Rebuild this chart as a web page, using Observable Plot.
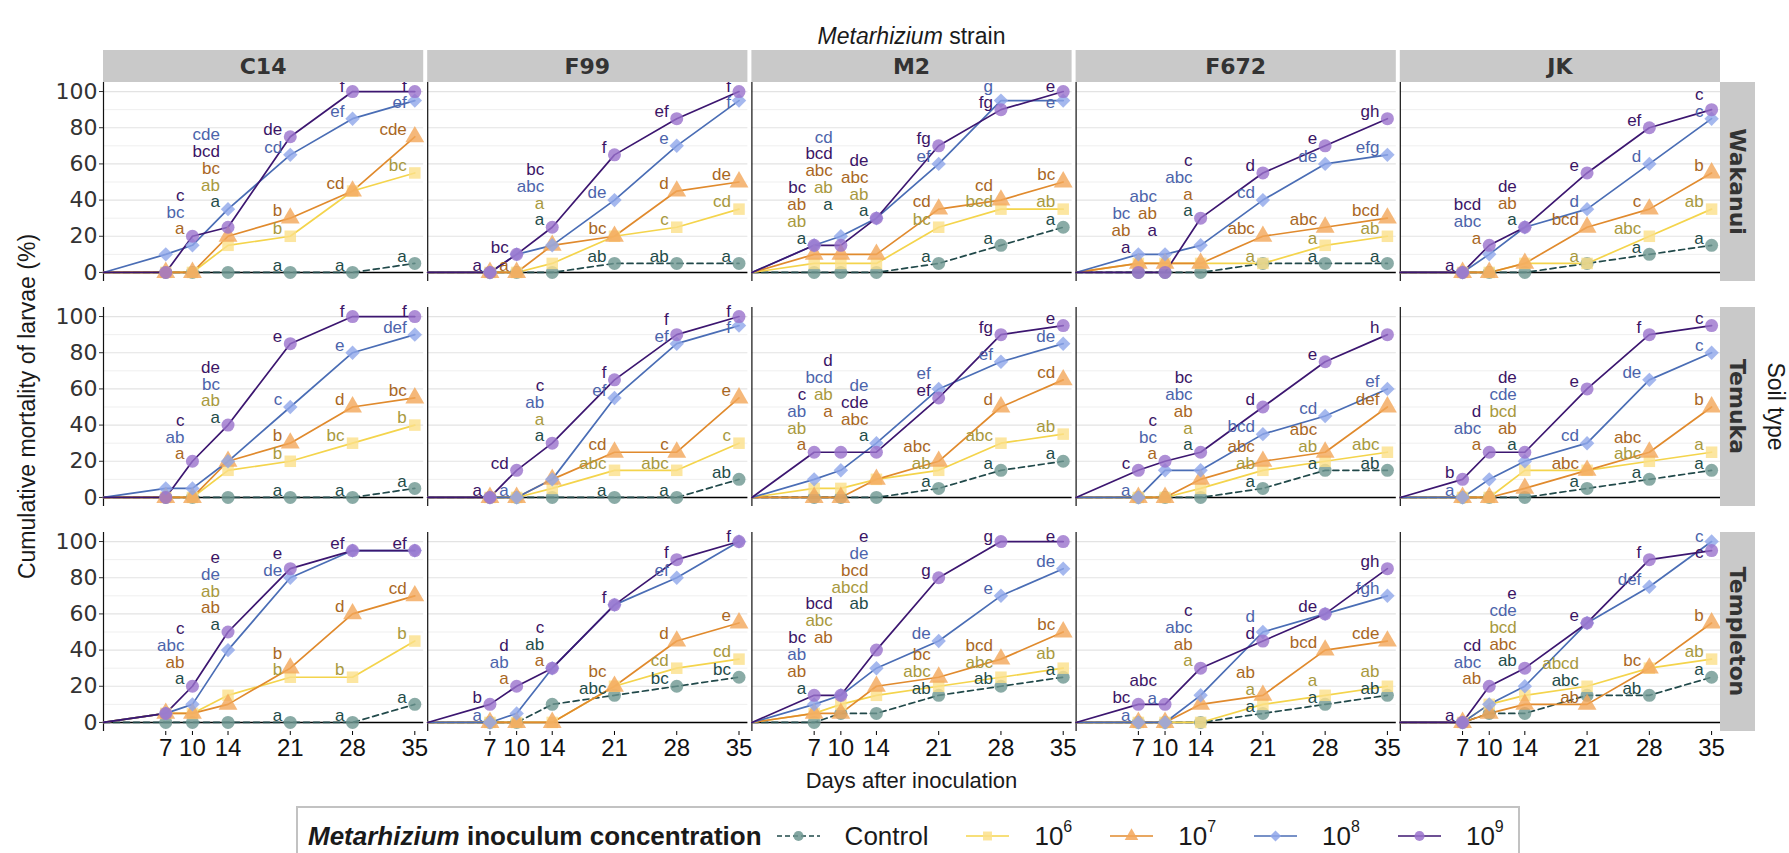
<!DOCTYPE html>
<html>
<head>
<meta charset="utf-8">
<script src="https://cdn.jsdelivr.net/npm/d3@7"></script>
<script src="https://cdn.jsdelivr.net/npm/@observablehq/plot@0.6"></script>
<style>
html, body { margin: 0; padding: 0; background: #fff; overflow: hidden; }
#wrap { position: relative; width: 1789px; height: 853px; overflow: hidden; }
#legend { position: absolute; left: 296px; top: 806px; width: 1224px; height: 66px; box-sizing: border-box;
  border: 2px solid #c2c2c2; padding: 11px 0 0 10px; font-family: "Liberation Sans", Arial, sans-serif;
  font-size: 26px; color: #1a1a1a; }
#legend .row { display: flex; align-items: center; height: 34px; white-space: nowrap; }
#legend .ltitle { font-weight: bold; }
#legend .item { display: flex; align-items: center; margin-left: 37px; }
#legend .item.first { margin-left: 14px; }
#legend .ltext { margin-left: 24px; }
#legend sup { font-size: 16px; position: relative; top: -3px; }
g[aria-label="y-axis tick label"] text { font-family: "DejaVu Sans", Verdana, sans-serif; }
</style>
</head>
<body>
<div id="wrap"><div id="chart"></div><div id="legend"><div class="row"></div></div></div>
<script>
// ---------- data ----------
const strains = ["C14", "F99", "M2", "F672", "JK"];
const soils = ["Wakanui", "Temuka", "Templeton"];
const days = [0, 7, 10, 14, 21, 28, 35];
const labelDays = [7, 10, 14, 21, 28, 35];
const concentrations = ["Control", "10^6", "10^7", "10^8", "10^9"];
const yTicks = [0, 20, 40, 60, 80, 100];
const yMinor = [10, 30, 50, 70, 90];
const xTicks = [7, 10, 14, 21, 28, 35];

// cumulative mortality (%) at days 0,7,10,14,21,28,35; rows: Control, 10^6, 10^7, 10^8, 10^9
const wakanuiC14 = [[0,0,0,0,0,0,5],[0,0,0,15,20,45,55],[0,0,0,20,30,45,75],[0,10,15,35,65,85,95],[0,0,20,25,75,100,100]];
const wakanuiF99 = [[0,0,0,0,5,5,5],[0,0,0,5,20,25,35],[0,0,0,15,20,45,50],[0,0,10,15,40,70,95],[0,0,10,25,65,85,100]];
const wakanuiM2 = [[0,0,0,0,5,15,25],[0,5,5,5,25,35,35],[0,10,10,10,35,40,50],[0,15,20,30,60,95,95],[0,15,15,30,70,90,100]];
const wakanuiF672 = [[0,0,0,0,5,5,5],[0,5,5,5,5,15,20],[0,5,5,5,20,25,30],[0,10,10,15,40,60,65],[0,0,0,30,55,70,85]];
const wakanuiJK = [[0,0,0,0,5,10,15],[0,0,0,5,5,20,35],[0,0,0,5,25,35,55],[0,0,10,25,35,60,85],[0,0,15,25,55,80,90]];
const temukaC14 = [[0,0,0,0,0,0,5],[0,0,0,15,20,30,40],[0,0,0,20,30,50,55],[0,5,5,20,50,80,90],[0,0,20,40,85,100,100]];
const temukaF99 = [[0,0,0,0,0,0,10],[0,0,0,5,15,15,30],[0,0,0,10,25,25,55],[0,0,0,10,55,85,95],[0,0,15,30,65,90,100]];
const temukaM2 = [[0,0,0,0,5,15,20],[0,5,5,10,15,30,35],[0,0,0,10,20,50,65],[0,10,15,30,60,75,85],[0,25,25,25,55,90,95]];
const temukaF672 = [[0,0,0,0,5,15,15],[0,0,0,5,15,20,25],[0,0,0,10,20,25,50],[0,0,15,15,35,45,60],[0,15,20,25,50,75,90]];
const temukaJK = [[0,0,0,0,5,10,15],[0,0,0,15,15,20,25],[0,0,0,5,15,25,50],[0,0,10,20,30,65,80],[0,10,25,25,60,90,95]];
const templetonC14 = [[0,0,0,0,0,0,10],[0,5,5,15,25,25,45],[0,5,5,10,30,60,70],[0,5,10,40,80,95,95],[0,5,20,50,85,95,95]];
const templetonF99 = [[0,0,0,10,15,20,25],[0,0,0,0,20,30,35],[0,0,0,0,20,45,55],[0,0,5,30,65,80,100],[0,10,20,30,65,90,100]];
const templetonM2 = [[0,0,5,5,15,20,25],[0,5,10,15,20,25,30],[0,5,5,20,25,35,50],[0,10,15,30,45,70,85],[0,15,15,40,80,100,100]];
const templetonF672 = [[0,0,0,0,5,10,15],[0,0,0,0,10,15,20],[0,0,0,10,15,40,45],[0,0,0,15,50,60,70],[0,10,10,30,45,60,85]];
const templetonJK = [[0,0,5,5,15,15,25],[0,0,10,15,20,30,35],[0,0,5,10,10,30,55],[0,0,10,20,55,75,100],[0,0,20,30,55,90,95]];

// significance letters at days 7,10,14,21,28,35 ("" = not shown)
const wakanuiC14Letters = [["","","a","a","a","a"],["","","ab","b","","bc"],["","a","bc","b","cd","cde"],["","bc","cde","cd","ef","ef"],["","c","bcd","de","f","f"]];
const wakanuiF99Letters = [["","","a","ab","ab","a"],["","","a","","c","cd"],["","a","","bc","d","de"],["","","abc","de","e","f"],["a","bc","bc","f","ef","f"]];
const wakanuiM2Letters = [["a","a","a","a","a","a"],["ab","ab","ab","bc","bcd","ab"],["ab","abc","abc","cd","cd","bc"],["","cd","","ef","g","e"],["bc","bcd","de","fg","fg","e"]];
const wakanuiF672Letters = [["","","a","","a","a"],["","","","a","a","ab"],["ab","ab","a","abc","abc","bcd"],["bc","abc","abc","cd","de","efg"],["a","a","c","d","e","gh"]];
const wakanuiJKLetters = [["","","a","","a","a"],["","","","a","abc","ab"],["","a","ab","bcd","c","b"],["","abc","","d","d","c"],["a","bcd","de","e","ef","c"]];
const temukaC14Letters = [["","","a","a","a","a"],["","","ab","b","bc","b"],["","a","","b","d","bc"],["","ab","bc","c","e","def"],["","c","de","e","f","f"]];
const temukaF99Letters = [["","","a","a","a","ab"],["","","a","abc","abc","c"],["","","","cd","c","e"],["","a","ab","ef","ef","f"],["a","cd","c","f","f","f"]];
const temukaM2Letters = [["","","a","a","a","a"],["ab","ab","","ab","abc","ab"],["a","a","abc","abc","d","cd"],["ab","bcd","de","ef","ef","de"],["c","d","cde","ef","fg","e"]];
const temukaF672Letters = [["","","a","a","a","ab"],["","","a","ab","ab","abc"],["","a","ab","abc","abc","def"],["a","bc","abc","bcd","cd","ef"],["c","c","bc","d","e","h"]];
const temukaJKLetters = [["","","a","a","a","a"],["","","bcd","","abc","a"],["","a","ab","abc","abc","b"],["a","abc","cde","cd","de","c"],["b","d","de","e","f","c"]];
const templetonC14Letters = [["","a","a","a","a","a"],["","","ab","b","b","b"],["","ab","ab","b","d","cd"],["","abc","de","de","",""],["","c","e","e","ef","ef"]];
const templetonF99Letters = [["","","ab","abc","bc","bc"],["","","","","cd","cd"],["","a","a","bc","d","e"],["a","ab","","","ef",""],["b","d","c","f","f","f"]];
const templetonM2Letters = [["a","","ab","ab","ab","a"],["","abc","abcd","abc","abc","ab"],["ab","ab","bcd","bc","bcd","bc"],["ab","","de","de","e","de"],["bc","bcd","e","g","g","e"]];
const templetonF672Letters = [["","","","a","a","ab"],["","","a","a","a","ab"],["","","ab","ab","bcd","cde"],["a","a","abc","d","","fgh"],["bc","abc","c","d","de","gh"]];
const templetonJKLetters = [["","","ab","abc","ab","a"],["","","bcd","abcd","","ab"],["","ab","abc","ab","bc","b"],["","abc","cde","","def","c"],["a","cd","e","e","f","c"]];

const panels = [
  ["Wakanui","C14",wakanuiC14,wakanuiC14Letters],["Wakanui","F99",wakanuiF99,wakanuiF99Letters],
  ["Wakanui","M2",wakanuiM2,wakanuiM2Letters],["Wakanui","F672",wakanuiF672,wakanuiF672Letters],
  ["Wakanui","JK",wakanuiJK,wakanuiJKLetters],
  ["Temuka","C14",temukaC14,temukaC14Letters],["Temuka","F99",temukaF99,temukaF99Letters],
  ["Temuka","M2",temukaM2,temukaM2Letters],["Temuka","F672",temukaF672,temukaF672Letters],
  ["Temuka","JK",temukaJK,temukaJKLetters],
  ["Templeton","C14",templetonC14,templetonC14Letters],["Templeton","F99",templetonF99,templetonF99Letters],
  ["Templeton","M2",templetonM2,templetonM2Letters],["Templeton","F672",templetonF672,templetonF672Letters],
  ["Templeton","JK",templetonJK,templetonJKLetters]
];

// ---------- styles ----------
const lineColor = {"Control":"#21494a","10^6":"#f4d44c","10^7":"#e08a2d","10^8":"#4a6db5","10^9":"#3c1670"};
const pointColor = {"Control":"#6d9690","10^6":"#fbe08a","10^7":"#f3a659","10^8":"#8fa6ea","10^9":"#9a72cc"};
const textColor = {"Control":"#1f4c49","10^6":"#a8993e","10^7":"#a9671f","10^8":"#4c64ab","10^9":"#3b1566"};
const symbolName = {"Control":"circle","10^6":"square","10^7":"triangle","10^8":"diamond2","10^9":"circle"};
const d3Symbol = {"Control":d3.symbolCircle,"10^6":d3.symbolSquare,"10^7":d3.symbolTriangle,"10^8":d3.symbolDiamond2,"10^9":d3.symbolCircle};

const W = 1789, H = 806;
const mL = 103, mR = 69, mT = 82, mB = 75;
const fxPad = 4 / 324.2, fyPad = 26 / 225;
const GAP = 9.3;
const pxPerDay = 320.2 / 36;
const labelWidth = t => (t.length * 9.3 + 3) / pxPerDay; // in day units

// ---------- tables ----------
const rows = [];
const labels = [];
for (const [soil, strain, vals, lets] of panels) {
  concentrations.forEach((c, si) => days.forEach((d, di) =>
    rows.push({soil, strain, series: c, day: d, value: vals[si][di]})));
  const placed = [];
  labelDays.forEach((d, k) => {
    const di = days.indexOf(d);
    const items = [];
    concentrations.forEach((c, si) => { const t = lets[si][k]; if (t) items.push({c, si, v: vals[si][di], t}); });
    if (!items.length) return;
    items.sort((a, b) => a.v - b.v || a.si - b.si);
    const maxV = d3.max(vals, s => s[di]);
    const ys = [];
    if (d <= 14 && items.length >= 3) items.forEach((it, i) => ys.push(maxV + 4 + i * GAP));
    else items.forEach((it, i) => ys.push(Math.max(it.v + 4, i ? ys[i - 1] + GAP : -Infinity)));
    for (let i = ys.length - 1; i >= 0; i--) ys[i] = Math.min(ys[i], i === ys.length - 1 ? 103 : ys[i + 1] - GAP);
    const x1 = d - 0.9;
    // avoid collisions with the stacks of earlier days
    const conflicts = (shift) => {
      let up = 0;
      items.forEach((it, i) => {
        const y = ys[i] + shift, x0 = x1 - labelWidth(it.t);
        for (const p of placed)
          if (x0 < p.x1 && p.x0 < x1 && Math.abs(y - p.y) < GAP) up = Math.max(up, p.y + GAP - y);
      });
      return up;
    };
    let shift = 0;
    for (let it = 0; it < 12; it++) { const u = conflicts(shift); if (u <= 0.01) break; shift += u; }
    items.forEach((it, i) => {
      const y = ys[i] + shift;
      placed.push({x0: x1 - labelWidth(it.t), x1, y});
      labels.push({soil, strain, series: it.c, text: it.t, x: x1, y});
    });
  });
}

const facet = {fx: "strain", fy: "soil"};
const marks = [
  Plot.ruleY(yMinor, {stroke: "#efefef", strokeWidth: 1}),
  Plot.ruleY(yTicks.filter(t => t > 0), {stroke: "#e3e3e3", strokeWidth: 1.2}),
  Plot.ruleY([0], {stroke: "#000", strokeWidth: 1.6}),
  Plot.ruleX([0], {stroke: "#111", strokeWidth: 1.2}),
  Plot.axisY({ticks: yTicks, tickSize: 4, tickPadding: 2, label: null, fontSize: 22, fill: "#333", stroke: "#333"}),
  Plot.axisX({ticks: xTicks, tickSize: 4, tickPadding: 3, label: null, fontSize: 24, fill: "#111"}),
];
concentrations.forEach(c => {
  const opts = {x: "day", y: "value", ...facet, stroke: lineColor[c], strokeWidth: 1.7};
  if (c === "Control") opts.strokeDasharray = "6,4";
  marks.push(Plot.line(rows.filter(r => r.series === c), opts));
});
concentrations.forEach(c => {
  marks.push(Plot.dot(rows.filter(r => r.series === c && r.day > 0),
    {x: "day", y: "value", ...facet, symbol: symbolName[c], fill: pointColor[c], fillOpacity: 0.8,
     r: c === "10^7" ? 7 : 6.5}));
});
concentrations.forEach(c => {
  marks.push(Plot.text(labels.filter(l => l.series === c),
    {x: "x", y: "y", text: "text", ...facet, fill: textColor[c], textAnchor: "end", fontSize: 17}));
});

const plot = Plot.plot({
  width: W, height: H,
  marginLeft: mL, marginRight: mR, marginTop: mT, marginBottom: mB,
  style: {fontFamily: "'Liberation Sans', Arial, sans-serif", fontSize: "17px", background: "#fff", overflow: "visible"},
  fx: {domain: strains, paddingInner: fxPad, paddingOuter: 0, round: false, axis: null, label: null},
  fy: {domain: soils, paddingInner: fyPad, paddingOuter: 0, round: false, axis: null, label: null},
  x: {domain: [0, 36], label: null},
  y: {domain: [-5, 105], label: null},
  marks
});
document.getElementById("chart").appendChild(plot);

// ---------- strips & titles ----------
const fxB = d3.scaleBand().domain(strains).range([mL, W - mR]).paddingInner(fxPad).paddingOuter(0);
const fyB = d3.scaleBand().domain(soils).range([mT, H - mB]).paddingInner(fyPad).paddingOuter(0);
const svg = d3.select(plot);
const ov = svg.append("g").attr("font-family", "'Liberation Sans', Arial, sans-serif");
const stripFill = "#c9c9c9";
strains.forEach(s => {
  ov.append("rect").attr("x", fxB(s)).attr("y", mT - 32).attr("width", fxB.bandwidth()).attr("height", 32).attr("fill", stripFill);
  ov.append("text").attr("x", fxB(s) + fxB.bandwidth() / 2).attr("y", mT - 16).attr("text-anchor", "middle")
    .attr("dominant-baseline", "central").attr("font-family", "'DejaVu Sans', Verdana, sans-serif")
    .attr("font-weight", "bold").attr("font-size", 22).attr("fill", "#333").text(s);
});
soils.forEach(s => {
  const x0 = W - mR;
  ov.append("rect").attr("x", x0).attr("y", fyB(s)).attr("width", 35).attr("height", fyB.bandwidth()).attr("fill", stripFill);
  ov.append("text").attr("transform", `translate(${x0 + 17.5},${fyB(s) + fyB.bandwidth() / 2}) rotate(90)`)
    .attr("text-anchor", "middle").attr("dominant-baseline", "central")
    .attr("font-family", "'DejaVu Sans', Verdana, sans-serif").attr("font-weight", "bold")
    .attr("font-size", 22).attr("fill", "#333").text(s);
});
const midX = (mL + W - mR) / 2, midY = (mT + H - mB) / 2;
const t1 = ov.append("text").attr("x", midX).attr("y", 44).attr("text-anchor", "middle").attr("font-size", 23).attr("fill", "#1a1a1a");
t1.append("tspan").attr("font-style", "italic").text("Metarhizium");
t1.append("tspan").text(" strain");
ov.append("text").attr("x", midX).attr("y", 788).attr("text-anchor", "middle").attr("font-size", 22).attr("fill", "#1a1a1a").text("Days after inoculation");
ov.append("text").attr("transform", `translate(27,${midY}) rotate(-90)`).attr("text-anchor", "middle")
  .attr("dominant-baseline", "central").attr("font-size", 23).attr("fill", "#1a1a1a").text("Cumulative mortality of larvae (%)");
ov.append("text").attr("transform", `translate(1776,${midY}) rotate(90)`).attr("text-anchor", "middle")
  .attr("dominant-baseline", "central").attr("font-size", 23).attr("fill", "#1a1a1a").text("Soil type");

// ---------- legend ----------
const row = d3.select("#legend .row");
row.append("span").attr("class", "ltitle").html("<i>Metarhizium</i> inoculum concentration");
concentrations.forEach((c, i) => {
  const item = row.append("span").attr("class", i === 0 ? "item first" : "item");
  const s = item.append("svg").attr("width", 45).attr("height", 26);
  const ln = s.append("line").attr("x1", 1).attr("x2", 44).attr("y1", 13).attr("y2", 13)
    .attr("stroke", lineColor[c]).attr("stroke-width", 1.7);
  if (c === "Control") ln.attr("stroke-dasharray", "5,3");
  s.append("path").attr("d", d3.symbol(d3Symbol[c], 80)()).attr("transform", "translate(22.5,13)")
    .attr("fill", pointColor[c]).attr("fill-opacity", 0.85);
  item.append("span").attr("class", "ltext").html(c === "Control" ? "Control" : "10<sup>" + c.slice(3) + "</sup>");
});
</script>
</body>
</html>
